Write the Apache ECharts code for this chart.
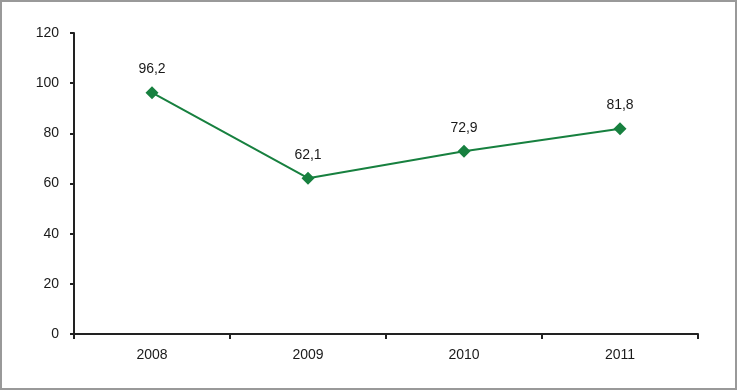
<!DOCTYPE html>
<html>
<head>
<meta charset="utf-8">
<script src="https://cdn.jsdelivr.net/npm/echarts@6/dist/echarts.min.js"></script>
<style>
  html, body { margin: 0; padding: 0; background: #fff; }
  #chart { width: 738px; height: 391px; }
</style>
</head>
<body>
<div id="chart"></div>
<script>
const years = ['2008', '2009', '2010', '2011']
const values = [96.2, 62.1, 72.9, 81.8]

const chart = echarts.init(document.getElementById('chart'))

const font = '"Liberation Sans", "Open Sans", sans-serif'

chart.setOption({
  animation: false,
  grid: { left: 74, right: 40, top: 33, bottom: 57 },
  xAxis: {
    type: 'category',
    data: years,
    boundaryGap: true,
    axisLine: { lineStyle: { color: '#222', width: 2 } },
    axisTick: { show: true, length: 5, lineStyle: { color: '#222', width: 2 } },
    axisLabel: { color: '#1a1a1a', fontSize: 14, fontFamily: font, margin: 14 },
    splitLine: { show: false }
  },
  yAxis: {
    type: 'value',
    min: 0, max: 120, interval: 20,
    axisLine: { show: true, lineStyle: { color: '#222', width: 2 } },
    axisTick: { show: true, length: 4, lineStyle: { color: '#222', width: 2 } },
    axisLabel: { color: '#1a1a1a', fontSize: 14, fontFamily: font, margin: 15 },
    splitLine: { show: false }
  },
  series: [{
    type: 'line',
    data: values,
    symbol: 'diamond',
    symbolSize: 13,
    lineStyle: { color: '#17803f', width: 2 },
    itemStyle: { color: '#17803f' },
    label: {
      show: true,
      position: 'top',
      distance: 10,
      color: '#1a1a1a',
      fontSize: 14,
      fontFamily: font,
      formatter: p => String(p.value).replace('.', ',')
    }
  }],
  graphic: [{
    type: 'rect',
    shape: { x: 1, y: 1, width: 735, height: 388 },
    style: { fill: 'none', stroke: '#999', lineWidth: 2 },
    silent: true
  }]
})
</script>
</body>
</html>
